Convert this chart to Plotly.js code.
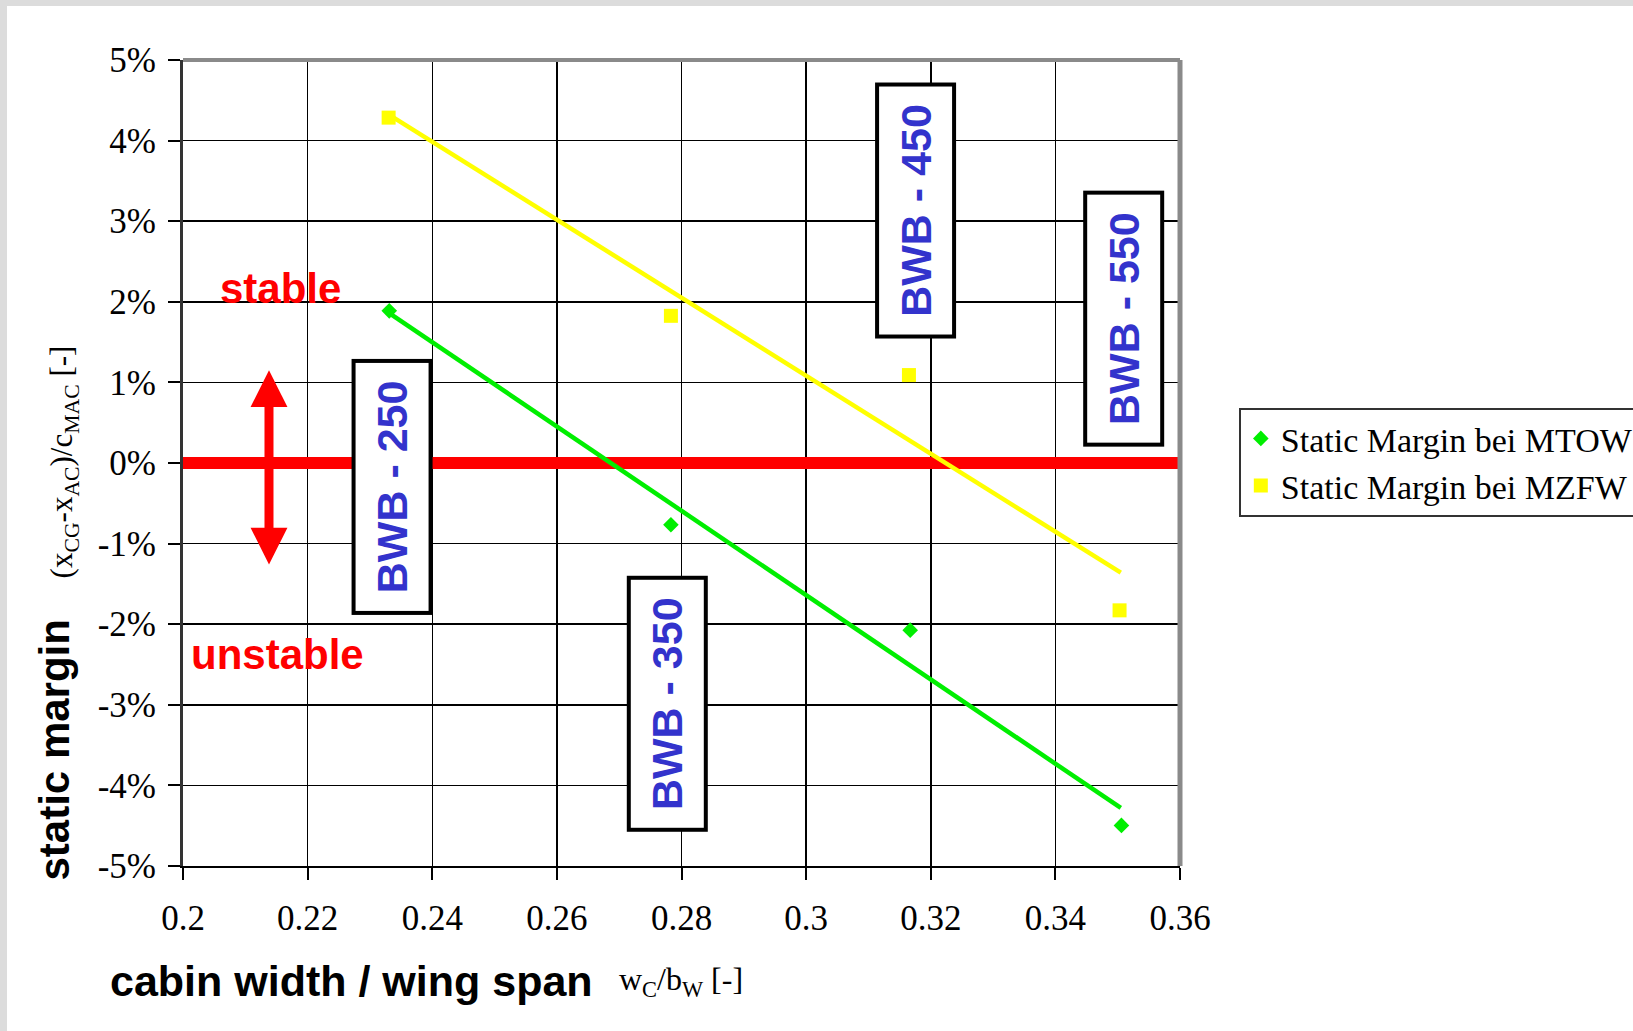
<!DOCTYPE html>
<html><head><meta charset="utf-8">
<script src="https://cdn.plot.ly/plotly-3.0.1.min.js"></script>
<style>
html,body{margin:0;padding:0;background:#dcdcdc;width:1633px;height:1031px;overflow:hidden;position:relative}
#chart{position:absolute;left:7px;top:6px;width:1660px;height:1025px;background:#fff}
</style></head><body><div id="chart"></div>
<script>
// data (static margin in %)
const xMTOW = [0.2331, 0.2783, 0.3167, 0.3506];
const yMTOW = [1.888, -0.766, -2.074, -4.496];
const xMZFW = [0.2330, 0.2783, 0.3165, 0.3503];
const yMZFW = [4.285, 1.826, 1.091, -1.828];
const trendX = [0.2331, 0.3505];
const trendMTOW = [1.86, -4.28];
const trendMZFW = [4.32, -1.36];
const seriesNames = ['Static Margin bei MTOW', 'Static Margin bei MZFW'];

const xTicks = [0.2, 0.22, 0.24, 0.26, 0.28, 0.3, 0.32, 0.34, 0.36];
const xTickText = ['0.2', '0.22', '0.24', '0.26', '0.28', '0.3', '0.32', '0.34', '0.36'];
const yTicks = [-5, -4, -3, -2, -1, 0, 1, 2, 3, 4, 5];
const yTickText = ['-5%', '-4%', '-3%', '-2%', '-1%', '0%', '1%', '2%', '3%', '4%', '5%'];

const boxLabels = ['BWB - 250', 'BWB - 350', 'BWB - 450', 'BWB - 550'];
const boxX = [0.2335, 0.2778, 0.3176, 0.3510];
const boxY = [-0.30, -2.99, 3.13, 1.79];

const zoneLabels = ['stable', 'unstable'];
const zoneX = [0.2157, 0.2152];
const zoneY = [2.17, -2.38];

const arrowX = [0.2138];
const arrowY = [1.17, -1.26];

const xTitle = 'cabin width / wing span';
const xTitleUnit = 'w<sub>C</sub>/b<sub>W</sub> [-]';
const yTitle = 'static margin';
const yTitleUnit = '(x<sub>CG</sub>-x<sub>AC</sub>)/c<sub>MAC</sub> [-]';

const GREEN = '#00ee00', YELLOW = '#ffff00';

const traces = [
  {x: trendX, y: trendMTOW, mode: 'lines', line: {color: GREEN, width: 4.5}, showlegend: false, hoverinfo: 'skip'},
  {x: trendX, y: trendMZFW, mode: 'lines', line: {color: YELLOW, width: 4.5}, showlegend: false, hoverinfo: 'skip'},
  {x: xMTOW, y: yMTOW, mode: 'markers', name: seriesNames[0], marker: {symbol: 'diamond', size: 12, color: GREEN}},
  {x: xMZFW, y: yMZFW, mode: 'markers', name: seriesNames[1], marker: {symbol: 'square', size: 14, color: YELLOW}}
];

const serif = 'Liberation Serif, Times New Roman, serif';
const sans = 'Liberation Sans, Arial, sans-serif';

const annotations = [];
boxLabels.forEach((t, i) => annotations.push({
  x: boxX[i], y: boxY[i], xref: 'x', yref: 'y', text: t, showarrow: false, textangle: -90,
  font: {family: sans, size: 43, color: '#3333cc', weight: 'bold'},
  bgcolor: '#ffffff', bordercolor: '#000000', borderwidth: 4, borderpad: 0,
  width: 248, height: 73, xanchor: 'center', yanchor: 'middle'
}));
zoneLabels.forEach((t, i) => annotations.push({
  x: zoneX[i], y: zoneY[i], xref: 'x', yref: 'y', text: t, showarrow: false,
  font: {family: sans, size: 42, color: '#ff0000', weight: 'bold'}, xanchor: 'center', yanchor: 'middle'
}));
annotations.push({
  x: arrowX[0], y: arrowY[1], ax: arrowX[0], ay: arrowY[0], xref: 'x', yref: 'y', axref: 'x', ayref: 'y',
  text: '', showarrow: true, arrowside: 'end+start', arrowhead: 2, startarrowhead: 2,
  arrowsize: 0.82, startarrowsize: 0.82, arrowwidth: 9, arrowcolor: '#ff0000', standoff: 0, startstandoff: 0
});
annotations.push({
  x: -0.0752, y: -0.1431, xref: 'paper', yref: 'paper', text: xTitle, showarrow: false,
  font: {family: sans, size: 43, color: '#000', weight: 'bold'}, xanchor: 'left', yanchor: 'middle'
});
annotations.push({
  x: 0.4350, y: -0.1431, xref: 'paper', yref: 'paper', text: xTitleUnit, showarrow: false,
  font: {family: serif, size: 32, color: '#000'}, xanchor: 'left', yanchor: 'middle'
});
annotations.push({
  x: -0.1285, y: 0.1444, xref: 'paper', yref: 'paper', text: yTitle, showarrow: false, textangle: -90,
  font: {family: sans, size: 42, color: '#000', weight: 'bold'}, xanchor: 'center', yanchor: 'middle'
});
annotations.push({
  x: -0.1190, y: 0.5012, xref: 'paper', yref: 'paper', text: yTitleUnit, showarrow: false, textangle: -90,
  font: {family: serif, size: 31, color: '#000'}, xanchor: 'center', yanchor: 'middle'
});

const layout = {
  width: 1660, height: 1025,
  margin: {l: 176, r: 487, t: 54, b: 165},
  paper_bgcolor: '#ffffff', plot_bgcolor: '#ffffff',
  showlegend: true,
  legend: {x: 1.059, y: 0.5685, xanchor: 'left', yanchor: 'top', bgcolor: '#ffffff',
    bordercolor: '#333333', borderwidth: 2, font: {family: serif, size: 34, color: '#000'}},
  xaxis: {range: [0.2, 0.36], tickvals: xTicks, ticktext: xTickText, showgrid: true, gridcolor: '#000', gridwidth: 1.5,
    zeroline: false, showline: true, linecolor: '#000', linewidth: 2, ticks: 'outside', ticklen: 12, tickwidth: 2,
    tickcolor: '#000', ticklabelstandoff: 8, tickfont: {family: serif, size: 35, color: '#000'}},
  yaxis: {range: [-5, 5], tickvals: yTicks, ticktext: yTickText, showgrid: true, gridcolor: '#000', gridwidth: 1.5,
    zeroline: true, zerolinecolor: '#ff0000', zerolinewidth: 12, showline: true, linecolor: '#333', linewidth: 3,
    ticks: 'outside', ticklen: 12, tickwidth: 2, tickcolor: '#000', ticklabelstandoff: 5,
    tickfont: {family: serif, size: 35, color: '#000'}},
  shapes: [
    {type: 'line', xref: 'paper', yref: 'paper', x0: 0, x1: 1, y0: 1, y1: 1, line: {color: '#8a8a8a', width: 4}},
    {type: 'line', xref: 'paper', yref: 'paper', x0: 1, x1: 1, y0: 0, y1: 1, line: {color: '#8a8a8a', width: 5}}
  ],
  annotations: annotations
};

Plotly.newPlot('chart', traces, layout, {staticPlot: true, displayModeBar: false});
</script></body></html>
